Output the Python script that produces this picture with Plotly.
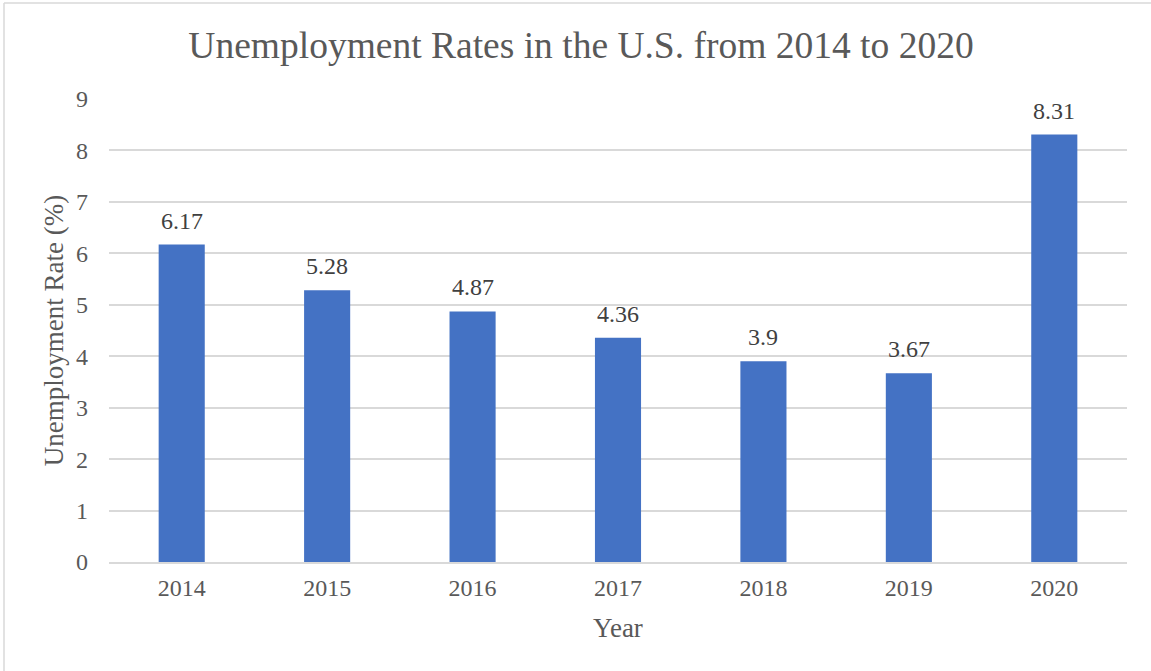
import plotly.graph_objects as go

years = ["2014", "2015", "2016", "2017", "2018", "2019", "2020"]
rates = [6.17, 5.28, 4.87, 4.36, 3.9, 3.67, 8.31]
labels = ["6.17", "5.28", "4.87", "4.36", "3.9", "3.67", "8.31"]

W, H = 1151, 671
L, R, T, B = 109, 24, 99, 109
pw, ph = W - L - R, H - T - B

def px(x):
    return (x - L) / pw

def py(y):
    return (H - B - y) / ph

font = "Liberation Serif, Times New Roman, serif"
gray = "#595959"

fig = go.Figure(go.Bar(
    x=years, y=rates,
    marker=dict(color="#4472C4", line=dict(width=0)),
    width=0.317, hoverinfo="x+y",
))

# category axis: annotation position given by category index
for i, (v, lab) in enumerate(zip(rates, labels)):
    fig.add_annotation(x=i, y=v, text=lab, showarrow=False, yanchor="bottom",
                       yshift=9, font=dict(family=font, size=24, color="#404040"))

fig.update_layout(
    width=W, height=H,
    margin=dict(l=L, r=R, t=T, b=B),
    paper_bgcolor="white", plot_bgcolor="white",
    title=dict(text="Unemployment Rates in the U.S. from 2014 to 2020",
               font=dict(family=font, size=37.5, color=gray),
               x=581 / W, xanchor="center", y=1 - 45 / H, yanchor="middle"),
    xaxis=dict(type="category", categoryorder="array", categoryarray=years,
               range=[-0.5, len(years) - 0.5],
               title=dict(text="Year", font=dict(family=font, size=27, color=gray), standoff=19),
               tickfont=dict(family=font, size=24, color=gray),
               showgrid=False, showline=True, linecolor="#D9D9D9", linewidth=1.5,
               ticks="", ticklabelstandoff=3),
    yaxis=dict(title=dict(text="Unemployment Rate (%)", font=dict(family=font, size=27, color=gray), standoff=4),
               tickfont=dict(family=font, size=24, color=gray),
               range=[0, 9], dtick=1, showgrid=True, gridcolor="#D9D9D9", gridwidth=1.5,
               zeroline=False, showline=False, ticks="", ticklabelstandoff=20),
    showlegend=False,
    shapes=[
        dict(type="line", xref="paper", yref="paper", x0=px(4), x1=px(W), y0=py(3), y1=py(3),
             line=dict(color="#D9D9D9", width=1.5)),
        dict(type="line", xref="paper", yref="paper", x0=px(4), x1=px(4), y0=py(3), y1=py(H),
             line=dict(color="#D9D9D9", width=1.5)),
    ],
)

fig.write_html("out.html", config={"displayModeBar": False},
               post_script="document.body.style.margin='0';document.body.style.overflow='hidden';")
